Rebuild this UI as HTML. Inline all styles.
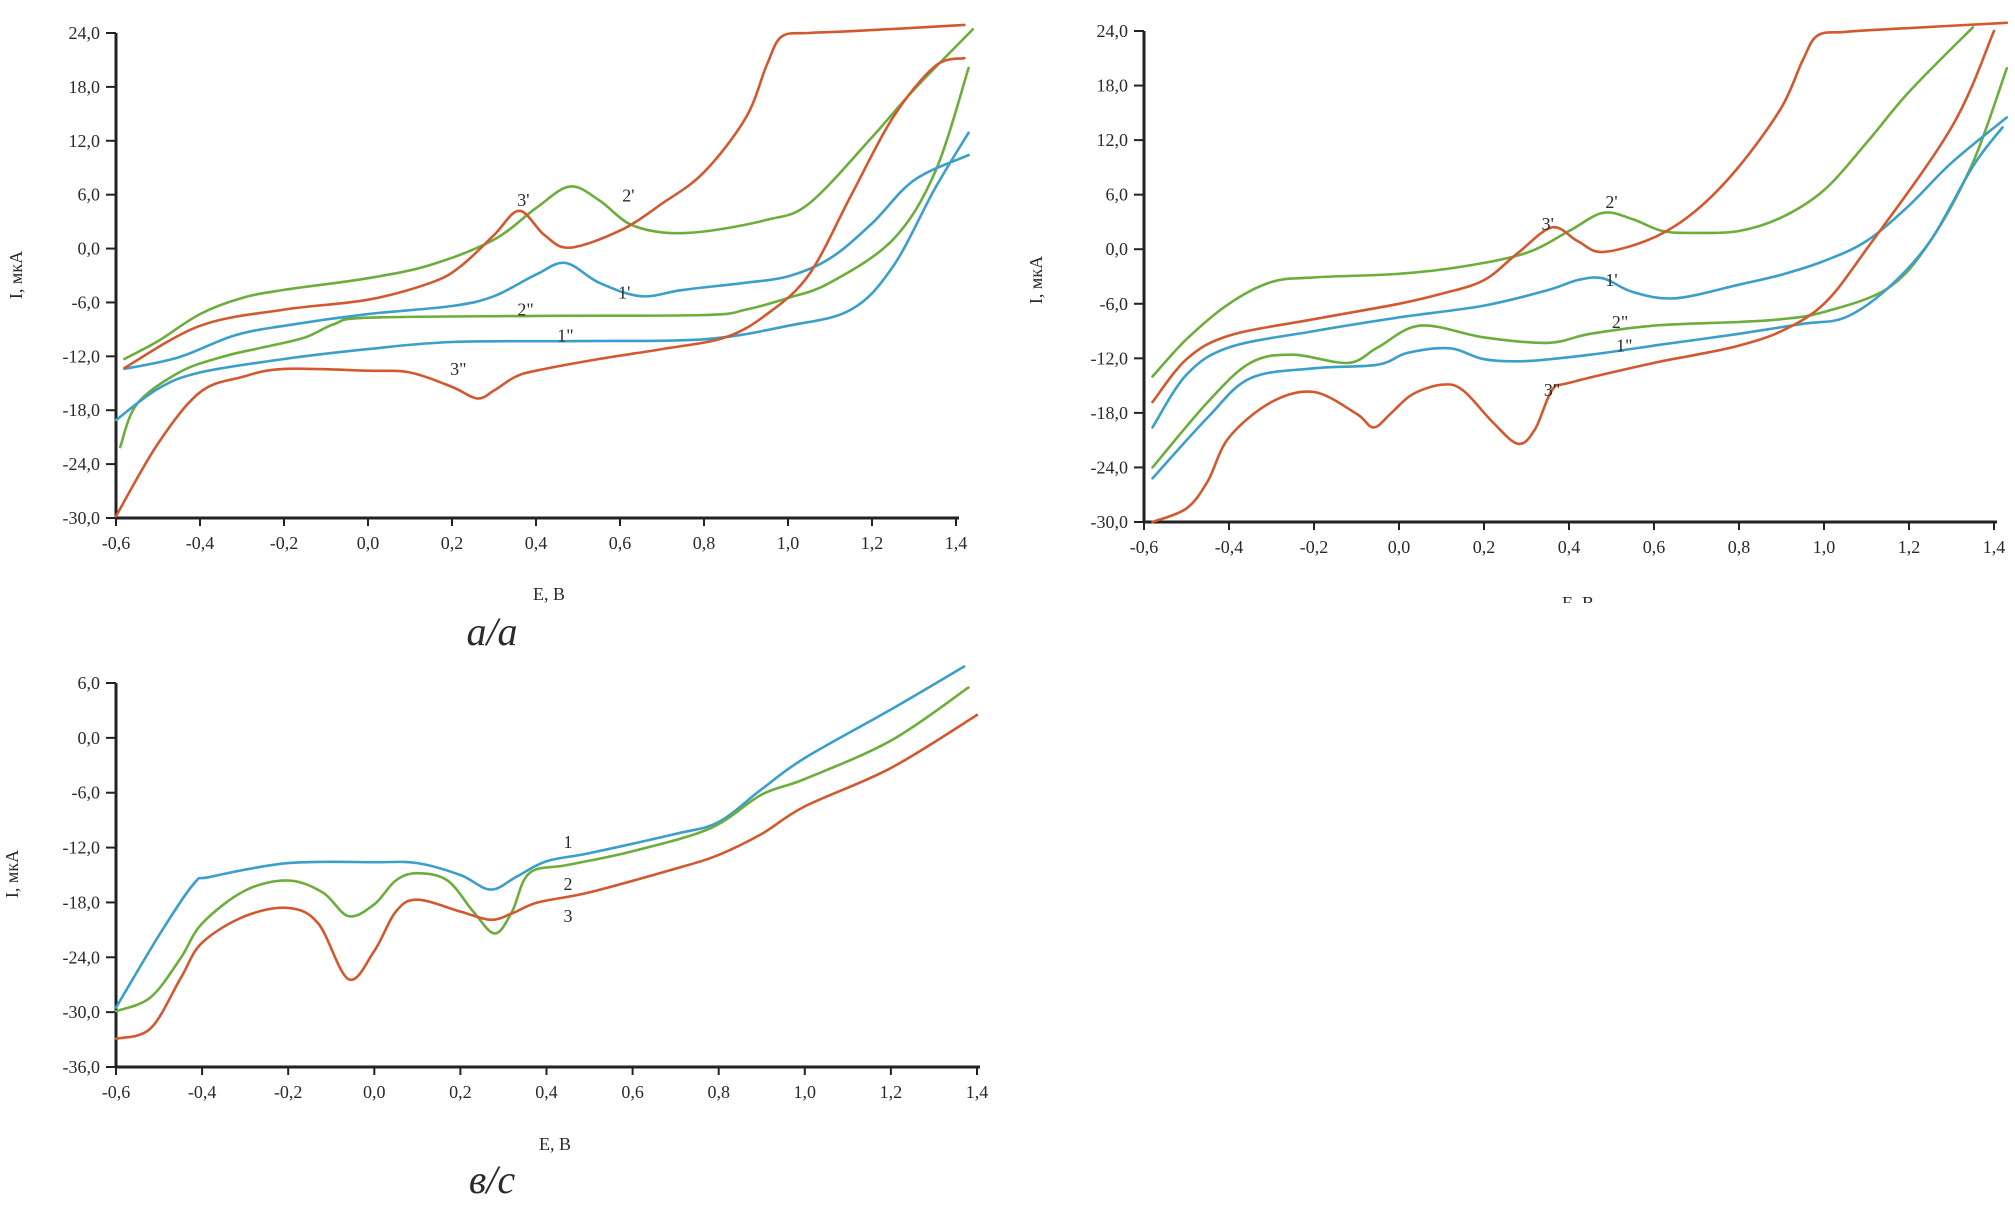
<!DOCTYPE html>
<html><head><meta charset="utf-8">
<style>
html,body{margin:0;padding:0;background:#fff;}
svg{display:block;}
text{font-family:"Liberation Serif",serif;fill:#2a2a2a;}
</style></head>
<body>
<svg id="fig" width="2015" height="1226" viewBox="0 0 2015 1226" xmlns="http://www.w3.org/2000/svg">
<rect x="0" y="0" width="2015" height="1226" fill="#fff"/>
<g id="pa"></g>
<g id="pb"></g>
<g id="pc"></g>
<text x="492" y="645" font-size="40" font-style="italic" text-anchor="middle">а/а</text>
<text x="492" y="1193" font-size="40" font-style="italic" text-anchor="middle">в/с</text>
</svg>
<script>
// ---- Panel a data ----
const aRedFwdE=[-0.58,-0.4,-0.2,0.0,0.15,0.22,0.3,0.36,0.42,0.48,0.6,0.7,0.8,0.9,0.95,0.985,1.05,1.15,1.42];
const aRedFwdI=[-13.3,-8.6,-6.8,-5.7,-3.8,-2.0,1.5,4.2,1.5,0.1,2.0,5.0,8.5,14.6,20.5,23.6,24.0,24.2,24.9];
const aRedRevE=[1.42,1.35,1.25,1.15,1.05,0.95,0.85,0.7,0.55,0.4,0.35,0.3,0.26,0.2,0.1,0.0,-0.2,-0.3,-0.4,-0.5,-0.6];
const aRedRevI=[21.2,20.3,14.6,5.9,-2.9,-7.3,-9.9,-11.2,-12.3,-13.6,-14.3,-15.8,-16.7,-15.4,-13.8,-13.6,-13.4,-14.3,-16,-21.7,-29.8];
const aGrnFwdE=[-0.58,-0.5,-0.4,-0.3,-0.2,0.0,0.15,0.3,0.4,0.48,0.55,0.62,0.7,0.8,0.95,1.05,1.2,1.3,1.44];
const aGrnFwdI=[-12.3,-10.3,-7.3,-5.5,-4.6,-3.3,-1.8,1.0,4.5,6.9,5.4,2.8,1.8,1.9,3.2,5.0,12.4,17.7,24.4];
const aGrnRevE=[1.43,1.35,1.25,1.1,1.0,0.9,0.8,0.4,0.0,-0.08,-0.15,-0.25,-0.35,-0.45,-0.55,-0.59];
const aGrnRevI=[20.1,8.5,1.0,-3.8,-5.5,-6.8,-7.4,-7.5,-7.7,-8.4,-9.9,-11,-12.1,-13.8,-17.3,-22.1];
const aBluFwdE=[-0.58,-0.45,-0.32,-0.2,0.0,0.2,0.3,0.4,0.47,0.55,0.65,0.75,0.9,1.0,1.1,1.2,1.3,1.43];
const aBluFwdI=[-13.4,-12.1,-9.7,-8.6,-7.3,-6.4,-5.3,-2.9,-1.6,-3.8,-5.3,-4.6,-3.8,-3.1,-1.1,2.8,7.6,10.4];
const aBluRevE=[1.43,1.35,1.25,1.15,1.0,0.8,0.5,0.2,0.0,-0.2,-0.4,-0.5,-0.6];
const aBluRevI=[12.9,6.7,-2.0,-6.8,-8.6,-10.1,-10.3,-10.4,-11.2,-12.3,-13.8,-15.6,-19.1];
const aLabels=["3'","2'","1'","2\"","1\"","3\""];
const aLabelE=[0.37,0.62,0.61,0.375,0.47,0.215];
const aLabelI=[5.4,5.9,-4.9,-6.8,-9.7,-13.4];
// ---- Panel b data ----
const bRedFwdE=[-0.58,-0.5,-0.4,-0.2,0.0,0.1,0.2,0.28,0.36,0.42,0.48,0.6,0.7,0.8,0.9,0.95,0.985,1.05,1.15,1.43];
const bRedFwdI=[-16.8,-12.1,-9.5,-7.7,-6.0,-4.9,-3.4,-0.4,2.4,0.9,-0.3,1.3,4.3,9.1,15.6,20.8,23.5,23.9,24.2,24.9];
const bRedRevE=[1.4,1.3,1.1,1.0,0.9,0.8,0.7,0.6,0.4,0.36,0.32,0.28,0.22,0.15,0.1,0.03,-0.02,-0.06,-0.1,-0.2,-0.3,-0.4,-0.45,-0.5,-0.58];
const bRedRevI=[24,13.4,0.0,-6.0,-9.0,-10.6,-11.6,-12.5,-14.7,-15.5,-19.8,-21.4,-19.0,-15.5,-14.9,-16,-18.1,-19.6,-18.1,-15.7,-16.8,-20.7,-25.5,-28.5,-30];
const bGrnFwdE=[-0.58,-0.5,-0.4,-0.3,-0.2,0.0,0.15,0.3,0.4,0.48,0.55,0.62,0.7,0.8,0.9,1.0,1.1,1.2,1.35];
const bGrnFwdI=[-14,-9.9,-6.0,-3.6,-3.1,-2.7,-1.9,-0.4,2.0,4.0,3.3,2.0,1.8,2.0,3.5,6.5,11.7,17.3,24.4];
const bGrnRevE=[1.43,1.35,1.25,1.15,1.0,0.9,0.8,0.6,0.45,0.35,0.2,0.05,-0.05,-0.12,-0.25,-0.35,-0.45,-0.58];
const bGrnRevI=[19.9,9.5,0.9,-4.3,-6.9,-7.7,-8,-8.4,-9.3,-10.3,-9.7,-8.4,-10.8,-12.5,-11.6,-12.5,-16.8,-24];
const bBluFwdE=[-0.58,-0.5,-0.4,-0.2,0.0,0.2,0.35,0.42,0.48,0.55,0.65,0.8,0.9,1.0,1.1,1.2,1.3,1.43];
const bBluFwdI=[-19.6,-13.8,-10.8,-9.0,-7.5,-6.2,-4.5,-3.4,-3.2,-4.7,-5.4,-3.9,-2.8,-1.3,0.9,4.8,9.5,14.5];
const bBluRevE=[1.42,1.35,1.25,1.15,1.05,0.95,0.8,0.6,0.45,0.3,0.2,0.12,0.02,-0.05,-0.2,-0.35,-0.45,-0.58];
const bBluRevI=[13.4,9.1,0.9,-4.3,-7.5,-8.2,-9.3,-10.6,-11.6,-12.3,-12.1,-10.9,-11.4,-12.7,-13.1,-14.2,-18.5,-25.2];
const bLabels=["2'","3'","1'","2\"","1\"","3\""];
const bLabelE=[0.50,0.35,0.50,0.52,0.53,0.36];
const bLabelI=[5.2,2.8,-3.4,-8,-10.6,-15.5];
// ---- Panel c data ----
const cBluE=[-0.6,-0.5,-0.42,-0.38,-0.2,0.0,0.1,0.2,0.27,0.33,0.4,0.5,0.7,0.8,0.9,1.0,1.2,1.37];
const cBluI=[-29.5,-21.6,-16.0,-15.2,-13.7,-13.6,-13.7,-15.0,-16.6,-15.2,-13.5,-12.6,-10.5,-9.2,-5.6,-2.2,3.1,7.8];
const cGrnE=[-0.6,-0.52,-0.45,-0.4,-0.3,-0.2,-0.12,-0.06,0.0,0.05,0.1,0.17,0.23,0.28,0.32,0.36,0.45,0.6,0.78,0.9,1.0,1.2,1.38];
const cGrnI=[-29.9,-28.4,-24.1,-20.3,-16.7,-15.6,-16.9,-19.5,-18.2,-15.6,-14.8,-15.6,-19.0,-21.4,-19.0,-14.8,-13.9,-12.4,-9.9,-6.2,-4.5,-0.3,5.5];
const cRedE=[-0.6,-0.52,-0.45,-0.4,-0.3,-0.2,-0.13,-0.06,0.0,0.05,0.1,0.2,0.27,0.32,0.38,0.5,0.7,0.8,0.9,1.0,1.2,1.4];
const cRedI=[-32.9,-31.8,-26.3,-22.4,-19.5,-18.6,-20.3,-26.4,-23.3,-19.0,-17.7,-19.0,-19.9,-19.2,-18.0,-16.9,-14.3,-12.8,-10.5,-7.5,-3.3,2.5];
const cLabels=["1","2","3"];
const cLabelE=[0.45,0.45,0.45];
const cLabelI=[-11.4,-16,-19.5];
// ---- ticks ----
const xTicks=[-0.6,-0.4,-0.2,0.0,0.2,0.4,0.6,0.8,1.0,1.2,1.4];
const abYTicks=[24,18,12,6,0,-6,-12,-18,-24,-30];
const cYTicks=[6,0,-6,-12,-18,-24,-30,-36];

const NS="http://www.w3.org/2000/svg";
const RED="#d2592f",GRN="#6cae3c",BLU="#3b9fca";
function fmt(v){return v.toFixed(1).replace('.',',');}
function mk(tag,attrs,parent){const e=document.createElementNS(NS,tag);for(const k in attrs)e.setAttribute(k,attrs[k]);parent.appendChild(e);return e;}
function smooth(pts){
  let d="M"+pts[0][0].toFixed(1)+","+pts[0][1].toFixed(1);
  for(let i=0;i<pts.length-1;i++){
    const p0=pts[Math.max(0,i-1)],p1=pts[i],p2=pts[i+1],p3=pts[Math.min(pts.length-1,i+2)];
    const c1x=p1[0]+(p2[0]-p0[0])/6,c1y=p1[1]+(p2[1]-p0[1])/6;
    const c2x=p2[0]-(p3[0]-p1[0])/6,c2y=p2[1]-(p3[1]-p1[1])/6;
    d+=" C"+c1x.toFixed(1)+","+c1y.toFixed(1)+" "+c2x.toFixed(1)+","+c2y.toFixed(1)+" "+p2[0].toFixed(1)+","+p2[1].toFixed(1);
  }
  return d;
}
function panel(g,cfg){
  const sx=e=>cfg.x0+(e-(-0.6))/2.0*(cfg.x1-cfg.x0);
  const sy=i=>cfg.yTop+(cfg.yMax-i)/(cfg.yMax-cfg.yMin)*(cfg.yBot-cfg.yTop);
  const ax=mk('g',{},g);
  
  
  const yl=mk('line',{x1:sx(-0.6),y1:cfg.yTop,x2:sx(-0.6),y2:cfg.yBot,stroke:"#222","stroke-width":3},ax);
  
  
  const xl=mk('line',{x1:sx(-0.6),y1:cfg.yBot,x2:sx(1.4)+3,y2:cfg.yBot,stroke:"#222","stroke-width":3},ax);
  
  
  cfg.yTicks.forEach(v=>{
    mk('line',{x1:sx(-0.6)-10,y1:sy(v),x2:sx(-0.6),y2:sy(v),stroke:"#222","stroke-width":2},ax);
    const t=mk('text',{x:sx(-0.6)-16,y:sy(v)+6,"font-size":18,"text-anchor":"end"},ax);
    
    
    t.textContent=fmt(v);
  });
  xTicks.forEach(v=>{
    mk('line',{x1:sx(v),y1:cfg.yBot,x2:sx(v),y2:cfg.yBot+8,stroke:"#222","stroke-width":2},ax);
    const t=mk('text',{x:sx(v),y:cfg.yBot+31,"font-size":18,"text-anchor":"middle"},ax);
    
    
    t.textContent=fmt(v);
  });
  cfg.series.forEach(s=>{
    const pts=s.E.map((e,k)=>[sx(e),sy(s.I[k])]);
    const p=mk('path',{d:smooth(pts),fill:"none",stroke:s.c,"stroke-width":2.6,"stroke-linejoin":"round","stroke-linecap":"round"},g);
    
    
  });
  cfg.labels.forEach((l,k)=>{
    const t=mk('text',{x:sx(cfg.labE[k]),y:sy(cfg.labI[k])+6,"font-size":18,"text-anchor":"middle"},g);
    
    
    t.textContent=l;
  });
  const xt=mk('text',{x:cfg.xtX,y:cfg.xtY,"font-size":18,"text-anchor":"middle"},g);
  
  
  xt.textContent="E, B";
  const yt=mk('text',{x:0,y:0,"font-size":18,"text-anchor":"middle",transform:"translate("+cfg.ytX+","+cfg.ytY+") rotate(-90)"},g);
  
  
  yt.textContent="I, мкА";
}
panel(document.getElementById('pa'),{x0:116,x1:956,yTop:33,yBot:518,yMax:24,yMin:-30,yTicks:abYTicks,
  xtX:549,xtY:600,ytX:22,ytY:275,
  labels:aLabels,labE:aLabelE,labI:aLabelI,
  series:[{E:aGrnFwdE,I:aGrnFwdI,c:GRN,n:'curve-2-forward'},{E:aGrnRevE,I:aGrnRevI,c:GRN,n:'curve-2-reverse'},
          {E:aBluFwdE,I:aBluFwdI,c:BLU,n:'curve-1-forward'},{E:aBluRevE,I:aBluRevI,c:BLU,n:'curve-1-reverse'},
          {E:aRedFwdE,I:aRedFwdI,c:RED,n:'curve-3-forward'},{E:aRedRevE,I:aRedRevI,c:RED,n:'curve-3-reverse'}]});
panel(document.getElementById('pb'),{x0:1144,x1:1994,yTop:31,yBot:522,yMax:24,yMin:-30,yTicks:abYTicks,
  xtX:1578,xtY:609,ytX:1042,ytY:280,
  labels:bLabels,labE:bLabelE,labI:bLabelI,
  series:[{E:bGrnFwdE,I:bGrnFwdI,c:GRN,n:'curve-2-forward'},{E:bGrnRevE,I:bGrnRevI,c:GRN,n:'curve-2-reverse'},
          {E:bBluFwdE,I:bBluFwdI,c:BLU,n:'curve-1-forward'},{E:bBluRevE,I:bBluRevI,c:BLU,n:'curve-1-reverse'},
          {E:bRedFwdE,I:bRedFwdI,c:RED,n:'curve-3-forward'},{E:bRedRevE,I:bRedRevI,c:RED,n:'curve-3-reverse'}]});
panel(document.getElementById('pc'),{x0:116,x1:977,yTop:683,yBot:1067,yMax:6,yMin:-36,yTicks:cYTicks,
  xtX:555,xtY:1150,ytX:18,ytY:874,
  labels:cLabels,labE:cLabelE,labI:cLabelI,
  series:[{E:cBluE,I:cBluI,c:BLU,n:'curve-1'},{E:cGrnE,I:cGrnI,c:GRN,n:'curve-2'},{E:cRedE,I:cRedI,c:RED,n:'curve-3'}]});
const cover=document.createElementNS(NS,'rect');
cover.setAttribute('x',1450);cover.setAttribute('y',603);cover.setAttribute('width',300);cover.setAttribute('height',30);cover.setAttribute('fill','#fff');


document.getElementById('fig').appendChild(cover);
</script>
</body></html>
